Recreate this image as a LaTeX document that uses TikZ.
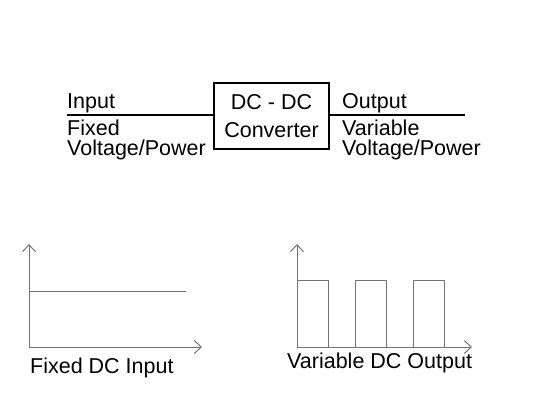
\documentclass[tikz,border=0pt]{standalone}
\usepackage{fontspec}
\setmainfont{Liberation Sans}
\usetikzlibrary{calc, positioning, arrows.meta}
\tikzstyle{label text}=[anchor=base west, inner sep=0pt, font=\fontsize{21.5}{21.5}\selectfont]
\tikzstyle{conv box}=[draw, line width=2pt, minimum width=115pt, minimum height=66pt, inner sep=0pt, align=center, font=\fontsize{21.5}{28}\selectfont]
\tikzstyle{wire}=[line width=2pt]
\tikzstyle{axis}=[draw=black!55, line width=1pt, -{Straight Barb[length=7pt, width=13pt]}]
\tikzstyle{signal}=[draw=black!55, line width=1pt]

\begin{document}
\begin{tikzpicture}[x=1pt, y=-1pt]
		\useasboundingbox (0,0) rectangle (544,408);
		% Draw the converter block and its wires
		\node[conv box] (conv) at (271.5,116) {DC - DC\\Converter};
		\coordinate (in) at (67,115);
		\coordinate (out) at (465,115);
		\draw[wire] (in) -- (in -| conv.west);
		\draw[wire] (conv.east |- out) -- (out);

		% Annotate the wires
		\node[label text] (in1) at (67,108) {Input};
		\node[label text] (in2) at (67,135) {Fixed};
		\node[label text] (in3) at (67,155) {Voltage/Power};
		\node[label text] (out1) at (342,108) {Output};
		\node[label text] (out2) at (342,135) {Variable};
		\node[label text] (out3) at (342,155) {Voltage/Power};

		% Draw the input graph
		\coordinate (O-1) at (29,347);
		\coordinate (Y-1) at (29,244);
		\coordinate (X-1) at (202,347);
		\draw[axis] (O-1) -- (Y-1);
		\draw[axis] (O-1) -- (X-1);
		\draw[signal] (29,291) -- (186,291);
		\node[label text] (gi) at (30,373) {Fixed DC Input};

		% Draw the output graph
		\coordinate (O-2) at (297,347);
		\coordinate (Y-2) at (297,244);
		\coordinate (X-2) at (472,347);
		\draw[axis] (O-2) -- (Y-2);
		\draw[axis] (O-2) -- (X-2);
		\foreach \x in {297,355,413}
		\draw[signal] (\x,347) -- (\x,280) -- (\x+31,280) -- (\x+31,347);
		\node[label text] (go) at (287,368) {Variable DC Output};
	\end{tikzpicture}
\end{document}
